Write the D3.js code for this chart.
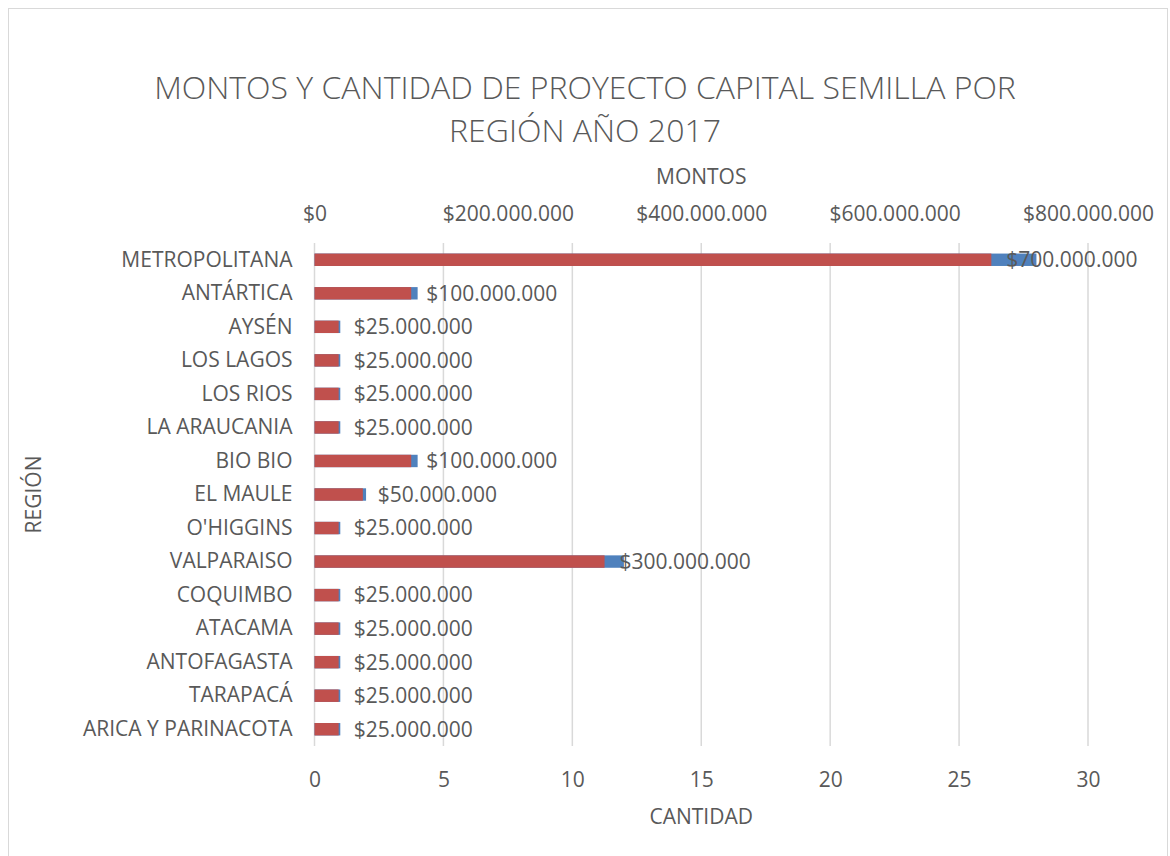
<!DOCTYPE html>
<html>
<head>
<meta charset="utf-8">
<script src="https://cdn.jsdelivr.net/npm/d3@7"></script>
<style>
  body { margin: 0; background: #fff; }
  text { font-family: "Open Sans", sans-serif; fill: #595959; }
</style>
</head>
<body>
<div id="chart"></div>
<script>
// chart data
const regiones = ["METROPOLITANA", "ANTÁRTICA", "AYSÉN", "LOS LAGOS", "LOS RIOS",
  "LA ARAUCANIA", "BIO BIO", "EL MAULE", "O'HIGGINS", "VALPARAISO", "COQUIMBO",
  "ATACAMA", "ANTOFAGASTA", "TARAPACÁ", "ARICA Y PARINACOTA"];
const montos = [700000000, 100000000, 25000000, 25000000, 25000000, 25000000,
  100000000, 50000000, 25000000, 300000000, 25000000, 25000000, 25000000, 25000000, 25000000];
const cantidad = [28, 4, 1, 1, 1, 1, 4, 2, 1, 12, 1, 1, 1, 1, 1];
const montosTicks = [0, 200000000, 400000000, 600000000, 800000000];
const cantidadTicks = [0, 5, 10, 15, 20, 25, 30];

const width = 1170;
const height = 856;
const margin = {left: 314.5, right: 82, top: 243, bottom: 110};

const svg = d3.select("#chart")
  .append("svg")
  .attr("width", width)
  .attr("height", height);

// chart border
svg.append("rect")
  .attr("x", 8.5).attr("y", 8.5)
  .attr("width", 1159).attr("height", 860)
  .attr("fill", "none")
  .attr("stroke", "#d9d9d9");

// scales
const yScale = d3.scaleBand()
  .domain(regiones)
  .range([margin.top, height - margin.bottom])
  .paddingInner(0.63)
  .paddingOuter(0.315);

const xCant = d3.scaleLinear()
  .domain([0, 30])
  .range([margin.left, width - margin.right]);

const xMonto = d3.scaleLinear()
  .domain([0, 800000000])
  .range([margin.left, width - margin.right]);

const fmtMonto = v => "$" + d3.format(",")(v).replace(/,/g, ".");

// gridlines
svg.append("g")
  .selectAll("line")
  .data(cantidadTicks)
  .join("line")
    .attr("x1", d => xCant(d)).attr("x2", d => xCant(d))
    .attr("y1", margin.top).attr("y2", height - margin.bottom)
    .attr("stroke", "#d9d9d9")
    .attr("stroke-width", 1.5);

// bottom axis (cantidad)
const xAxisB = svg.append("g")
  .attr("transform", `translate(0,${height - margin.bottom})`)
  .call(d3.axisBottom(xCant).tickValues(cantidadTicks).tickSize(0).tickPadding(26));
xAxisB.select(".domain").remove();
xAxisB.selectAll("text").attr("font-size", 21).style("font-family", "Open Sans").attr("fill", "#595959");

// top axis (montos)
const xAxisT = svg.append("g")
  .attr("transform", `translate(0,${margin.top})`)
  .call(d3.axisTop(xMonto).tickValues(montosTicks).tickFormat(fmtMonto).tickSize(0).tickPadding(22));
xAxisT.select(".domain").remove();
xAxisT.selectAll("text").attr("font-size", 21).style("font-family", "Open Sans").attr("fill", "#595959");

// category axis
const yAxis = svg.append("g")
  .attr("transform", `translate(${margin.left},0)`)
  .call(d3.axisLeft(yScale).tickSize(0).tickPadding(22));
yAxis.select(".domain").remove();
yAxis.selectAll("text").attr("font-size", 21).style("font-family", "Open Sans").attr("fill", "#595959");

// bars: cantidad behind, montos in front
svg.append("g")
  .selectAll("rect")
  .data(regiones)
  .join("rect")
    .attr("x", xCant(0))
    .attr("y", d => yScale(d))
    .attr("width", (d, i) => xCant(cantidad[i]) - xCant(0))
    .attr("height", yScale.bandwidth())
    .attr("fill", "#4f81bd");

svg.append("g")
  .selectAll("rect")
  .data(regiones)
  .join("rect")
    .attr("x", xMonto(0))
    .attr("y", d => yScale(d))
    .attr("width", (d, i) => xMonto(montos[i]) - xMonto(0))
    .attr("height", yScale.bandwidth())
    .attr("fill", "#c0504d");

// value labels
svg.append("g")
  .selectAll("text")
  .data(regiones)
  .join("text")
    .attr("x", (d, i) => xMonto(montos[i]) + 15)
    .attr("y", d => yScale(d) + yScale.bandwidth() / 2)
    .attr("dy", "0.35em")
    .attr("font-size", 21)
    .text((d, i) => fmtMonto(montos[i]));

// titles
const title = svg.append("text")
  .attr("text-anchor", "middle")
  .attr("font-size", 32)
  .attr("font-weight", 300);
title.append("tspan").attr("x", 585).attr("y", 99).text("MONTOS Y CANTIDAD DE PROYECTO CAPITAL SEMILLA POR");
title.append("tspan").attr("x", 585).attr("y", 142).text("REGIÓN AÑO 2017");

svg.append("text")
  .attr("x", (margin.left + width - margin.right) / 2)
  .attr("y", 184)
  .attr("text-anchor", "middle")
  .attr("font-size", 21)
  .text("MONTOS");

svg.append("text")
  .attr("x", (margin.left + width - margin.right) / 2)
  .attr("y", 824)
  .attr("text-anchor", "middle")
  .attr("font-size", 21)
  .text("CANTIDAD");

svg.append("text")
  .attr("transform", `translate(41,${(margin.top + height - margin.bottom) / 2}) rotate(-90)`)
  .attr("text-anchor", "middle")
  .attr("font-size", 21)
  .text("REGIÓN");
</script>
</body>
</html>
